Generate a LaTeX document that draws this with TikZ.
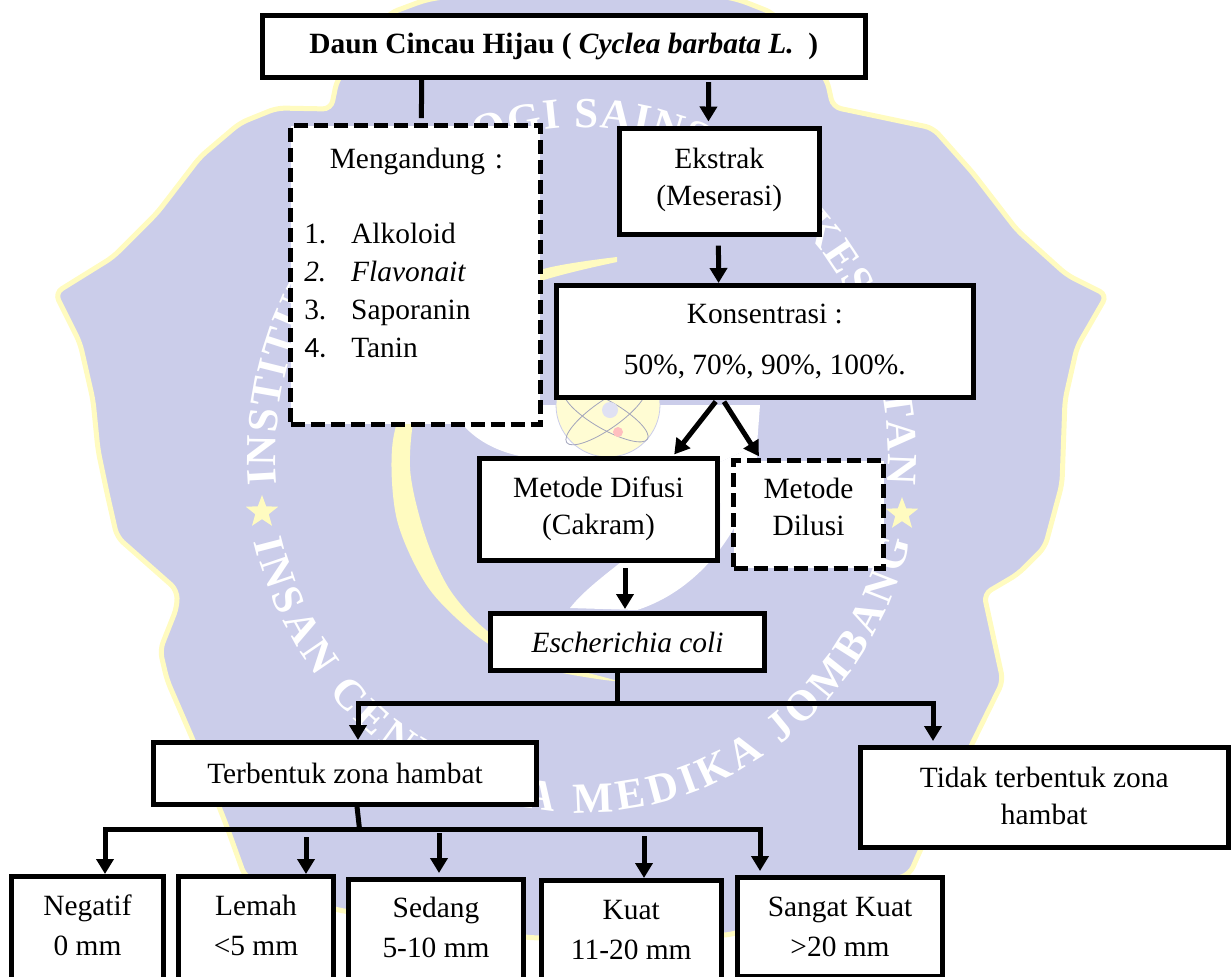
\documentclass[tikz,border=0pt]{standalone}
\usepackage{fontspec}
\setmainfont{Liberation Serif}
\newfontfamily\numfont{Carlito}
\newfontfamily\ringfont{Liberation Serif}[Scale=2.15]
\usetikzlibrary{arrows.meta,decorations.text,shapes.geometric}
\definecolor{sealblue}{HTML}{CBCDEA}
\definecolor{sealyellow}{HTML}{FFFBC0}
% trailing empty line, moves the text of a box up
\newcommand{\padtext}[1]{\\[\dimexpr #1-\baselineskip\relax]\mbox{}}
\newcommand{\zatnum}[1]{\makebox[23.5pt][l]{#1}}
\begin{document}
\begin{tikzpicture}
          [x=0.5pt,y=-0.5pt,
          font=\fontsize{14.7}{18.5}\selectfont,
          boxsize/.style 2 args={minimum width=#1*0.5pt,minimum height=#2*0.5pt},
          plainbox/.style={shape=rectangle,draw=black,fill=white,line width=2.5pt,align=center,inner sep=0pt},
          dashbox/.style={plainbox,dash pattern=on 7pt off 3pt},
          scorebox/.style={plainbox,font=\fontsize{14.7}{20}\selectfont},
          flowarrow/.style={-{Triangle[length=7.5pt,width=8.5pt]},line width=2.5pt},
          flowline/.style={line width=2.5pt},
          ringtext/.style={decorate,decoration={text along path,text align={fit to path},text={#1}}},
          starmark/.style={shape=star,star points=5,star point ratio=2.4,fill=sealyellow,minimum size=17pt,inner sep=0pt}]

            \useasboundingbox (0,0) rectangle (1231,976);
            \clip (0,0) rectangle (1231,976);

            % the seal behind the chart
            \draw [fill=sealblue,draw=sealyellow,line width=2.5pt,rounded corners=4pt]
              (425,0) -- (390,13) -- (337,80) -- (331,109) -- (277,108) -- (240,123) -- (200,157) -- (157,213)
              -- (113,257) -- (55,293) -- (80,343) -- (93,400) -- (98,450) -- (107,493) -- (117,537) -- (177,590)
              -- (177,607) -- (160,650) -- (167,680) -- (193,740) -- (227,827) -- (245,877) -- (337,910)
              -- (532,938) -- (730,935) -- (910,874) -- (919,853) -- (973,742) -- (1003,681) -- (984,594)
              -- (1018,574) -- (1045,547) -- (1062,484) -- (1065,400) -- (1077,347) -- (1107,295) -- (1067,275)
              -- (1017,230) -- (973,173) -- (933,128) -- (833,107) -- (827,80) -- (773,13) -- (740,0) -- (600,-30) -- cycle;
            \fill [white] (463,425) .. controls (490,455) and (530,460) .. (570,462) -- (720,462)
              -- (757,445) -- (760,405) -- (463,405) -- cycle;
            \fill [white] (570,608) .. controls (600,570) and (660,545) .. (720,462) -- (757,445)
              .. controls (760,500) and (715,585) .. (637,610) -- cycle;
            \fill [sealblue] (720,503) .. controls (712,530) and (705,545) .. (695,560) -- (720,560) -- cycle;
            \fill [sealyellow] plot [smooth] coordinates {(617,257) (540,270) (470,305) (420,365) (393,440) (397,520)
              (430,590) (487,643) (550,670) (617,681) (550,662) (490,633) (450,590) (425,535) (410,467) (420,395)
              (465,330) (530,285) (617,262)} -- cycle;
            % atom in the middle of the seal
            \draw [fill=sealyellow!70,draw=sealblue] (608,405) circle [radius=52];
            \draw [sealblue!80!black,rotate around={35:(606,415)}] (606,415) ellipse [x radius=48,y radius=14];
            \draw [sealblue!80!black,rotate around={-30:(606,415)}] (606,415) ellipse [x radius=48,y radius=14];
            \fill [sealblue!60] (610,410) circle [radius=8];
            \fill [red!25] (618,432) circle [radius=5];
            \path [ringtext={|\ringfont\bfseries\color{white}|INSTITUT TEKNOLOGI SAINS DAN KESEHATAN}]
              (277,484) arc [start angle=185,end angle=-5,x radius=153pt,y radius=164pt];
            \path [ringtext={|\ringfont\bfseries\color{white}|INSAN CENDEKIA MEDIKA JOMBANG}]
              (254,541) arc [start angle=194,end angle=346,x radius=169pt,y radius=179pt];
            \node (starleft) [starmark] at (262,512) {};
            \node (starright) [starmark] at (902,514) {};

            % boxes
            \node (title) [plainbox,boxsize={602.5}{62.5}] at (563.75,46.25) {\textbf{Daun Cincau Hijau ( \textit{Cyclea barbata L.}\ \ )}};
            \node (zat) [dashbox,boxsize={249.5}{298.5},text width=111pt,align=left] at (415.25,274.75)
              {\hspace*{12.8pt}Mengandung :\\[19pt]
               \zatnum{1.}Alkoloid\\[0.5pt]
               \zatnum{\textit{2.}}\textit{Flavonait}\\[0.5pt]
               \zatnum{3.}Saporanin\\[0.5pt]
               \zatnum{\numfont 4.}Tanin\\[3pt]\mbox{}};
            \node (ekstrak) [plainbox,boxsize={200.5}{106}] at (719.25,181) {Ekstrak\\(Meserasi)\padtext{4pt}};
            \node (konsentrasi) [plainbox,boxsize={417.5}{112}] at (764.75,341.5)
              {Konsentrasi :\\[7pt]50\%, 70\%, 90\%, 100\%.};
            \node (difusi) [plainbox,boxsize={238}{102}] at (598.5,509.5) {Metode Difusi\\(Cakram)\padtext{3.5pt}};
            \node (dilusi) [dashbox,boxsize={150}{107.5}] at (808.5,514.25) {Metode\\Dilusi\padtext{7pt}};
            \node (ecoli) [plainbox,boxsize={274}{57}] at (627.5,642) {\textit{Escherichia coli}};
            \node (terbentuk) [plainbox,boxsize={383}{61.5}] at (345,773.25) {Terbentuk zona hambat};
            \node (tidak) [plainbox,boxsize={367.5}{100}] at (1044.25,797.5) {Tidak terbentuk zona\\hambat\padtext{2pt}};
            \node (negatif) [scorebox,boxsize={152}{113.5}] at (87.5,933.25) {Negatif\\0 mm\padtext{8pt}};
            \node (lemah) [scorebox,boxsize={155}{113.5}] at (256,933.25) {Lemah\\<5 mm\padtext{8pt}};
            \node (sedang) [scorebox,boxsize={175}{110.5}] at (436,934.75) {Sedang\\5-10 mm\padtext{7.75pt}};
            \node (kuat) [scorebox,boxsize={179.5}{109.5}] at (631.25,935.25) {Kuat\\11-20 mm\padtext{5.75pt}};
            \node (sangat) [scorebox,boxsize={205}{99}] at (840,926.5) {Sangat Kuat\\>20 mm};

            % free ends of the two bars
            \coordinate (busa) at (617,703);
            \coordinate (busaleft) at (358,703);
            \coordinate (busaright) at (933,703);
            \coordinate (busb) at (359.5,829);
            \coordinate (busbleft) at (105,829);
            \coordinate (busbright) at (760,829);
            \coordinate (lemahtop) at (306,837);
            \coordinate (sedangtop) at (439,833);
            \coordinate (kuattop) at (644,836);

            % connectors
            \draw [flowline,shorten >=2.5pt] ([xshift=-71.1pt]title.south) -- ([xshift=3.1pt]zat.north);
            \draw [flowarrow,shorten <=1pt,shorten >=2pt] ([xshift=72.4pt]title.south) -- ([xshift=-5.4pt]ekstrak.north);
            \draw [flowarrow,shorten <=4.5pt] ([xshift=-0.4pt]ekstrak.south) -- ([xshift=-23.1pt]konsentrasi.north);
            \draw [flowarrow,shorten <=1pt,shorten >=1pt] ([xshift=-23.9pt]konsentrasi.south) -- ([xshift=37.25pt]difusi.north);
            \draw [flowarrow,shorten <=1pt,shorten >=1pt] ([xshift=-20.9pt]konsentrasi.south) -- ([xshift=-24.25pt]dilusi.north);
            \draw [flowarrow,shorten <=2.5pt,shorten >=1pt] ([xshift=13.25pt]difusi.south) -- ([xshift=-1.25pt]ecoli.north);
            \draw [flowline] (ecoli.south -| busa) -- (busa);
            \draw [flowarrow] (busa) -- (busaleft) -- (terbentuk.north -| busaleft);
            \draw [flowarrow,shorten >=2pt] (busa) -- (busaright) -- (tidak.north -| busaright);
            \draw [flowline] ([xshift=6pt]terbentuk.south) -- (busb);
            \draw [flowarrow] (busb) -- (busbleft) -- (negatif.north -| busbleft);
            \draw [flowarrow,shorten >=1.75pt] (busb) -- (busbright) -- (sangat.north -| busbright);
            \draw [flowarrow] (lemahtop) -- (lemah.north -| lemahtop);
            \draw [flowarrow,shorten >=2pt] (sedangtop) -- (sedang.north -| sedangtop);
            \draw [flowarrow] (kuattop) -- (kuat.north -| kuattop);

        \end{tikzpicture}
\end{document}
